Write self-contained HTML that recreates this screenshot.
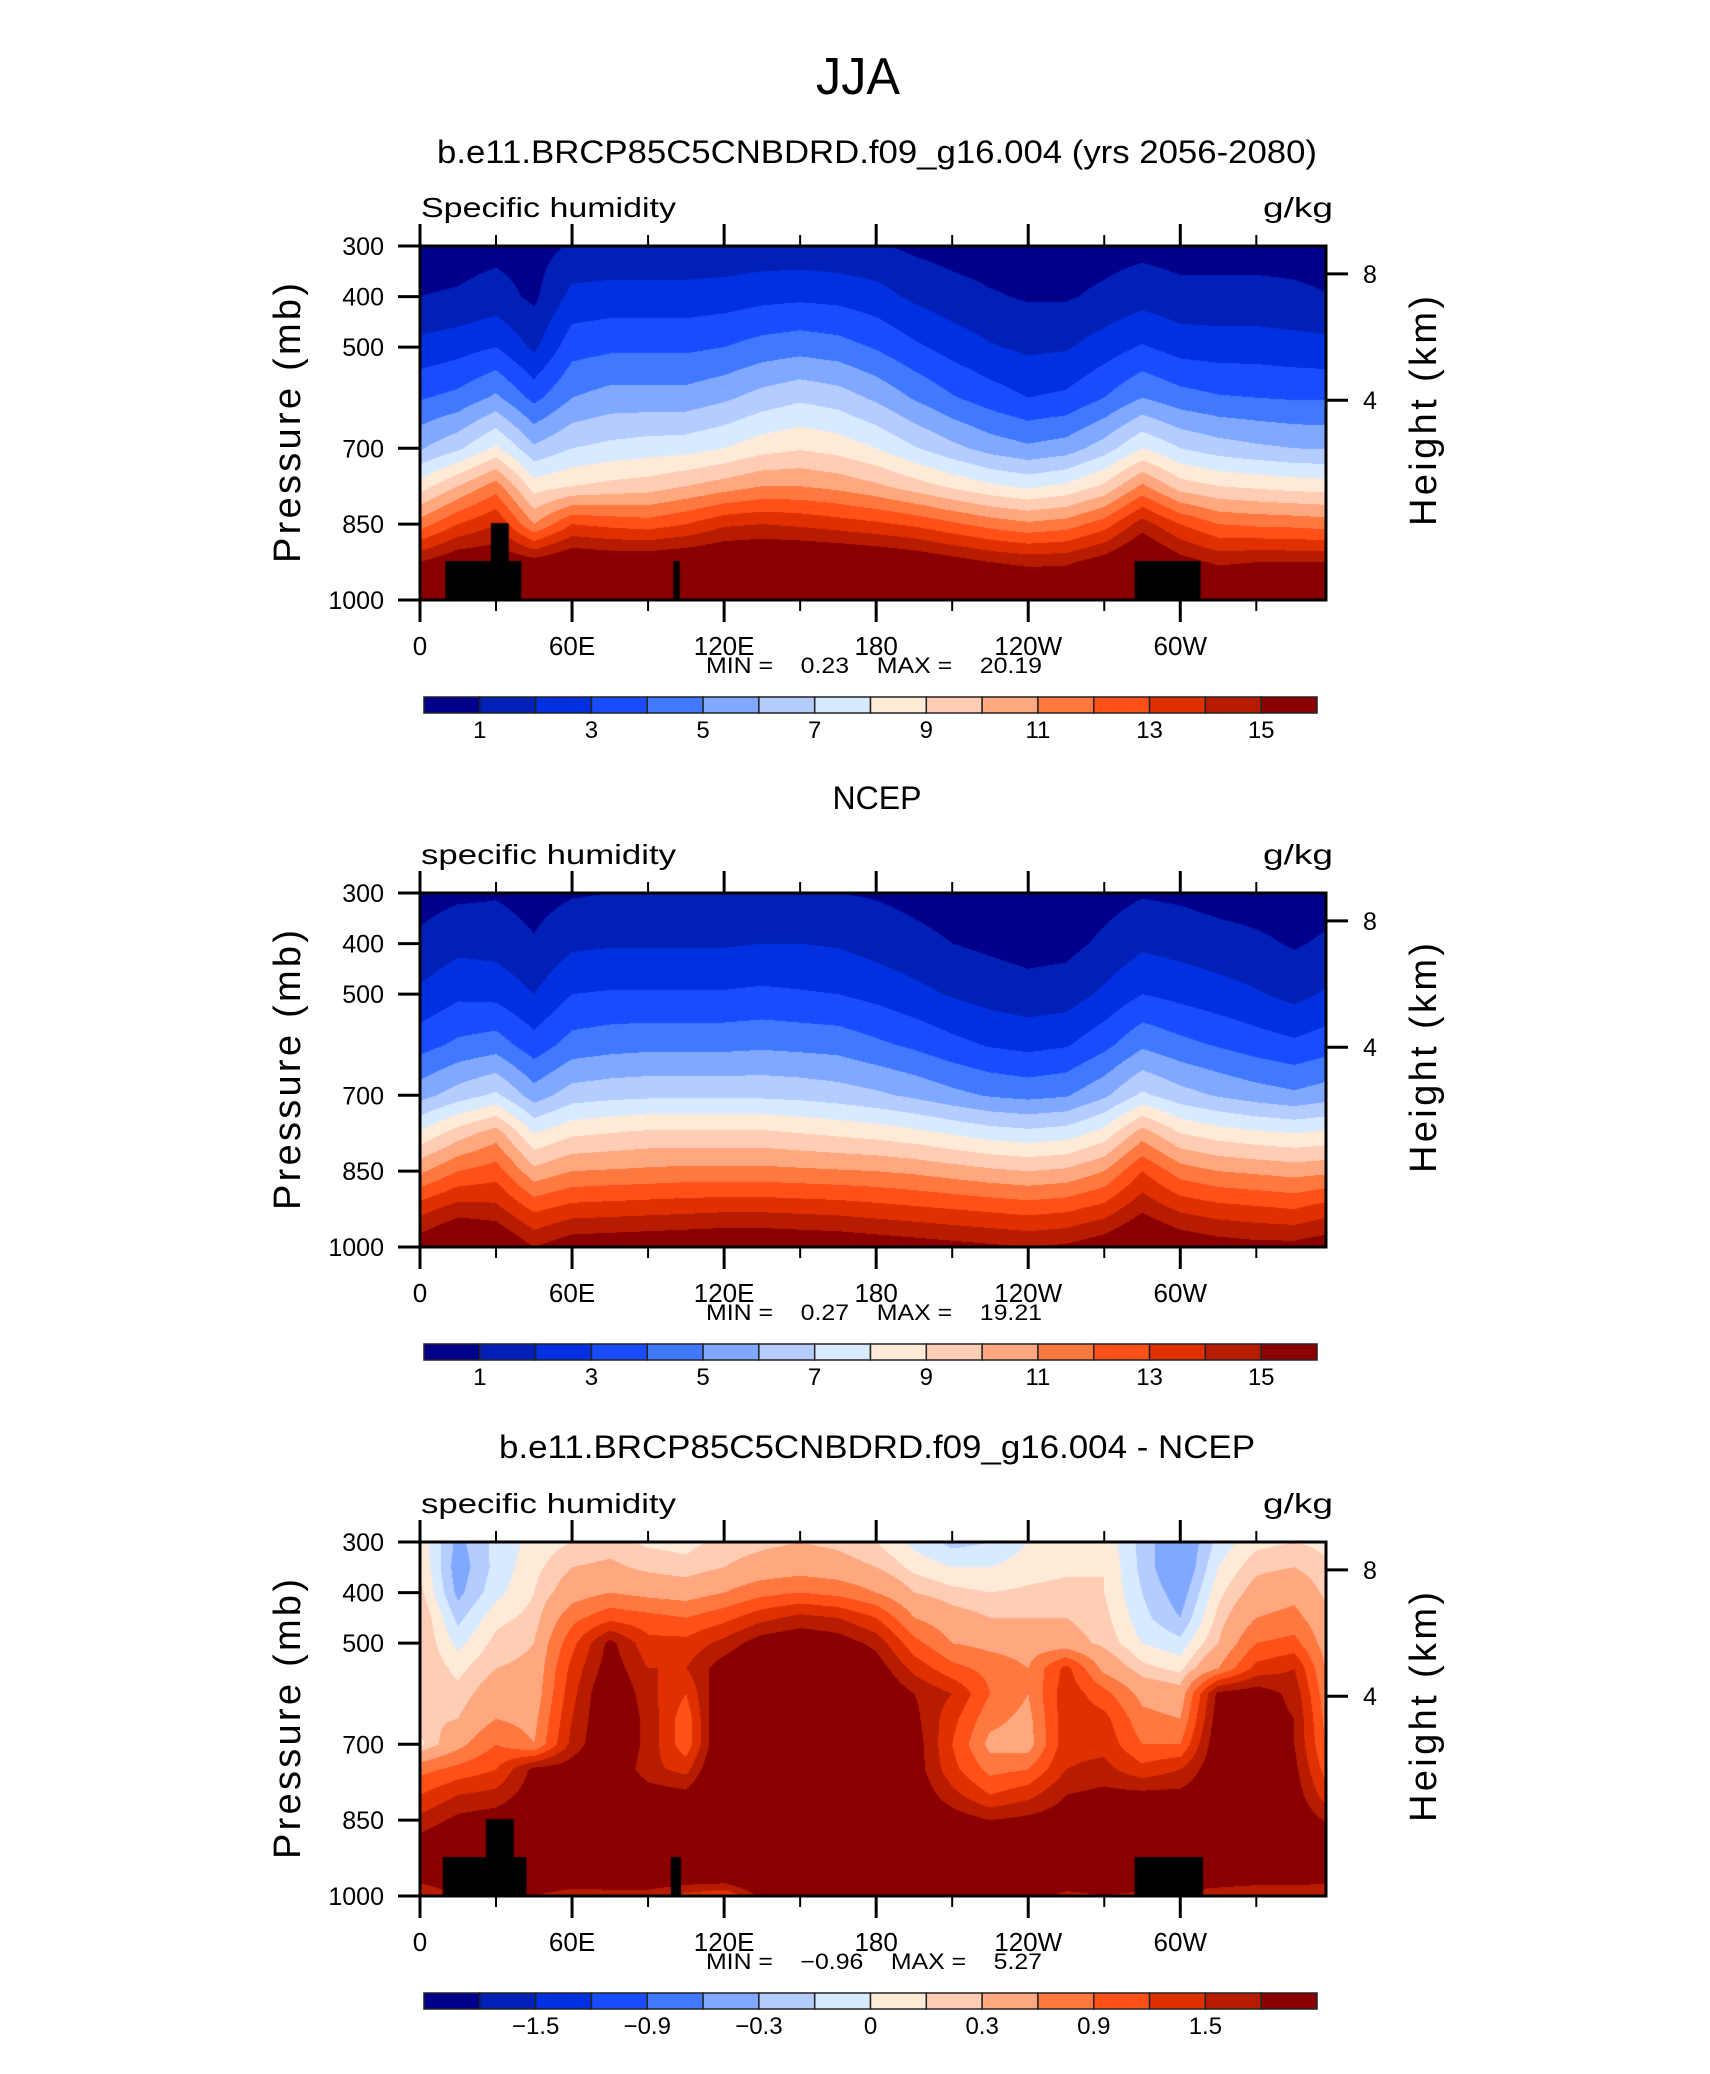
<!DOCTYPE html>
<html><head><meta charset="utf-8">
<style>
html,body{margin:0;padding:0;background:#fff;}
#root{position:relative;width:1710px;height:2074px;overflow:hidden;background:#fff;}
canvas{position:absolute;}
svg{position:absolute;left:0;top:0;}
text{font-family:"Liberation Sans",sans-serif;fill:#000;white-space:pre;}
</style></head>
<body>
<div id="root">
<canvas id="c0" width="906" height="354" style="left:420px;top:246px"></canvas>
<canvas id="c1" width="906" height="354" style="left:420px;top:893px"></canvas>
<canvas id="c2" width="906" height="354" style="left:420px;top:1542px"></canvas>
<svg id="ov" width="1710" height="2074"></svg>
</div>
<script>
// ---- data ----
const lons = [0,15,30,45,60,75,90,105,120,135,150,165,180,195,210,225,240,255,270,285,300,315,330,345,360];
const presRowsA = [300,400,500,600,700,775,850,925,1000];
const modelQ = [
[0.6,0.6,0.7,0.6,1.1,1.2,1.2,1.2,1.2,1.3,1.3,1.2,1.1,0.8,0.6,0.5,0.5,0.5,0.6,0.7,0.6,0.6,0.6,0.6,0.6],
[1.0,1.1,1.4,0.8,2.3,2.4,2.4,2.4,2.5,2.7,2.8,2.7,2.4,1.8,1.4,1.1,0.9,0.9,1.2,1.6,1.3,1.3,1.3,1.2,1.0],
[2.3,2.6,3.0,1.8,3.6,3.8,3.8,3.8,4.0,4.4,4.6,4.4,3.9,3.2,2.6,2.1,1.8,1.9,2.5,3.1,2.6,2.5,2.5,2.4,2.3],
[3.9,4.3,5.2,3.7,5.0,5.4,5.4,5.4,5.8,6.4,6.8,6.5,5.8,4.9,4.1,3.5,3.0,3.2,4.0,5.0,4.4,4.1,4.0,3.9,3.9],
[5.9,6.8,8.2,6.2,7.0,7.3,7.5,7.6,8.0,8.6,8.9,8.6,8.0,7.1,6.3,5.6,5.2,5.5,6.5,8.0,7.0,6.5,6.2,6.0,5.9],
[8.5,10.0,11.5,8.5,9.0,9.3,9.5,10.0,10.5,11.0,11.0,10.7,10.2,9.5,8.8,8.2,7.8,8.2,9.2,11.2,9.5,9.0,8.8,8.6,8.5],
[11.5,13.0,14.0,11.0,13.0,12.7,12.5,13.0,13.8,14.0,13.8,13.5,13.2,12.8,12.2,11.6,11.2,11.5,12.5,14.5,13.0,12.0,11.8,11.7,11.5],
[15.0,16.0,16.0,15.5,16.2,16.0,16.0,16.2,16.5,16.6,16.6,16.5,16.3,16.0,15.5,15.0,14.7,14.8,15.6,16.8,15.5,14.8,15.0,15.0,15.0],
[17,18,18,17,18.5,18.5,18.5,18.5,18.8,19,19,18.8,18.6,18.3,18,17.5,17,17,17.8,19,18,17,17,17,17]
];
const ncepQ = [
[0.6,0.8,0.9,0.6,0.9,1.0,1.0,1.0,1.0,1.1,1.1,1.0,0.9,0.7,0.5,0.4,0.4,0.4,0.6,0.9,0.8,0.6,0.5,0.4,0.6],
[1.2,1.7,1.6,1.1,1.8,1.9,1.9,1.9,1.9,2.0,2.0,1.9,1.6,1.3,1.0,0.8,0.6,0.7,1.2,1.8,1.6,1.4,1.2,0.9,1.2],
[2.2,2.8,2.7,2.0,3.0,3.1,3.1,3.1,3.1,3.2,3.1,3.0,2.7,2.3,1.9,1.6,1.4,1.5,2.2,3.0,2.7,2.4,2.1,1.7,2.2],
[3.6,4.2,4.5,3.4,4.4,4.6,4.7,4.7,4.7,4.8,4.7,4.6,4.2,3.8,3.3,2.9,2.7,2.9,3.7,4.8,4.3,3.9,3.5,3.2,3.6],
[5.6,6.5,7.2,5.5,6.5,6.7,6.8,6.8,6.8,6.8,6.7,6.5,6.2,5.8,5.3,4.9,4.7,4.9,5.8,7.2,6.4,5.9,5.5,5.2,5.6],
[8.2,9.5,10.5,8.0,8.8,9.0,9.2,9.2,9.2,9.2,9.0,8.8,8.6,8.3,7.9,7.5,7.3,7.5,8.4,10.5,9.0,8.5,8.2,8.0,8.2],
[10.8,12.0,12.5,10.3,11.0,11.1,11.2,11.3,11.3,11.3,11.2,11.1,11.0,10.8,10.5,10.2,10.0,10.2,11.0,13.0,11.5,11.0,10.8,10.6,10.8],
[13.6,14.5,14.3,12.8,13.4,13.5,13.6,13.7,13.8,13.8,13.7,13.6,13.4,13.2,13.0,12.8,12.6,12.8,13.4,14.8,13.8,13.4,13.2,13.0,13.6],
[15.8,16.8,16.5,15.0,15.8,15.9,16.0,16.1,16.2,16.2,16.1,16.0,15.8,15.6,15.4,15.2,15.0,15.2,15.8,16.8,16.0,15.6,15.4,15.4,15.8]
];
const presRowsD = [300,350,400,450,500,550,600,650,700,750,800,850,900,950,1000];
const diffQ = [
[0.1,-0.35,-0.1,0.05,0.15,0.2,0.12,0.1,0.2,0.25,0.3,0.25,0.15,-0.05,-0.2,-0.15,0.0,0.05,0.1,-0.2,-0.5,-0.1,0.1,0.15,0.1],
[0.15,-0.4,-0.1,0.1,0.3,0.35,0.25,0.2,0.3,0.4,0.45,0.4,0.3,0.1,0.0,0.0,0.08,0.12,0.15,-0.2,-0.5,0.0,0.25,0.3,0.15],
[0.2,-0.35,-0.05,0.15,0.45,0.6,0.5,0.45,0.6,0.8,0.9,0.8,0.6,0.3,0.2,0.15,0.18,0.2,0.15,-0.15,-0.4,0.1,0.4,0.5,0.2],
[0.3,-0.2,0.1,0.2,0.8,1.1,1.0,0.9,1.1,1.4,1.6,1.5,1.2,0.6,0.4,0.3,0.3,0.3,0.2,-0.1,-0.3,0.2,0.6,0.7,0.3],
[0.3,-0.05,0.2,0.3,1.1,1.9,1.3,1.3,1.6,2.0,2.1,2.0,1.7,1.0,0.6,0.5,0.45,0.4,0.25,0.0,-0.1,0.3,0.9,1.0,0.35],
[0.3,0.1,0.3,0.35,1.3,2.0,1.5,1.5,2.0,2.3,2.4,2.3,2.0,1.4,1.0,0.8,0.6,1.3,0.5,0.2,0.1,0.6,1.3,1.5,0.4],
[0.3,0.2,0.45,0.4,1.4,2.2,1.6,1.2,2.2,2.5,2.5,2.4,2.2,1.8,1.5,0.9,0.6,1.4,1.0,0.5,0.4,1.9,2.0,1.7,0.5],
[0.25,0.3,0.6,0.5,1.5,2.2,1.7,1.0,2.3,2.6,2.6,2.5,2.3,1.9,1.3,0.7,0.5,1.4,1.3,0.7,0.6,2.0,2.0,1.8,0.6],
[0.1,0.5,0.9,0.6,1.6,2.2,1.7,1.0,2.3,2.7,2.7,2.6,2.4,2.0,1.2,0.5,0.45,1.4,1.4,0.9,0.9,2.1,2.2,1.8,0.7],
[0.8,1.0,1.2,1.9,2.0,2.2,1.6,1.4,2.4,2.7,2.7,2.6,2.4,2.0,1.3,0.8,0.9,1.5,1.6,1.3,1.5,2.1,2.2,1.9,0.9],
[1.2,1.5,1.6,2.0,2.1,2.3,2.0,1.9,2.5,2.7,2.7,2.6,2.4,2.1,1.6,1.2,1.4,1.8,1.9,1.9,1.9,2.1,2.2,2.0,1.2],
[1.6,1.9,2.0,2.2,2.3,2.4,2.3,2.3,2.5,2.6,2.6,2.5,2.4,2.2,2.0,1.8,1.9,2.0,2.1,2.0,2.0,2.2,2.2,2.1,1.7],
[2.0,2.2,2.2,2.3,2.4,2.4,2.4,2.4,2.5,2.6,2.6,2.5,2.4,2.3,2.2,2.1,2.1,2.2,2.2,2.2,2.2,2.3,2.3,2.2,2.0],
[2.1,2.2,2.2,2.3,2.3,2.4,2.4,2.3,2.4,2.5,2.5,2.4,2.4,2.3,2.2,2.2,2.2,2.2,2.2,2.2,2.2,2.2,2.2,2.2,2.1],
[1.5,1.8,1.8,1.8,1.6,1.6,1.6,1.4,1.2,1.9,2.0,2.0,2.0,2.0,2.0,2.0,2.0,1.7,1.8,1.7,1.7,1.6,1.5,1.5,1.5]
];
const levelsQ = [1,2,3,4,5,6,7,8,9,10,11,12,13,14,15];
const levelsD = [-1.8,-1.5,-1.2,-0.9,-0.6,-0.3,-0.15,0,0.15,0.3,0.6,0.9,1.2,1.5,1.8];
const barLabelsQ = ["1","3","5","7","9","11","13","15"];
const barLabelsD = ["\u22121.5","\u22120.9","\u22120.3","0","0.3","0.9","1.5"];
const barLabelIdxQ = [0,2,4,6,8,10,12,14];
const barLabelIdxD = [1,3,5,7,9,11,13];
const colors = ["#00008a","#0020b8","#0030e0","#1a4cff","#4078ff","#80a8ff","#b4ccff","#d8eaff","#ffead8","#ffccb4","#ffa880","#ff7840","#ff5018","#e03000","#b81c00","#8a0000"];
// topography blocks: [lonStart, lonEnd, topPressure]
const topoA = [[10,40,923],[28,35,848],[100,102.5,923],[282,308,923]];
const topoC = [[9,42,923],[26,37,848],[99,103,923],[282,309,923]];
const lonTicks = [0,60,120,180,240,300];
const lonTickLabels = ["0","60E","120E","180","120W","60W"];
const presTicks = [300,400,500,700,850,1000];
const heightTickP = [355,605];
const heightTickLabels = ["8","4"];

// ---- geometry ----
const PL=420, PW=906, PH=354, LONMAX=357.5;
const tops=[246,893,1542];
const xOf = lon => PL + lon/LONMAX*PW;
const yOf = (top,p) => top + (p-300)/700*PH;

function hex(c){return [parseInt(c.slice(1,3),16),parseInt(c.slice(3,5),16),parseInt(c.slice(5,7),16)];}
const rgb = colors.map(hex);

function sample(grid, rows, lon, p){
  let i=0; while(i<lons.length-2 && lon>lons[i+1]) i++;
  let j=0; while(j<rows.length-2 && p>rows[j+1]) j++;
  const tx=(lon-lons[i])/(lons[i+1]-lons[i]);
  const ty=(p-rows[j])/(rows[j+1]-rows[j]);
  const a=grid[j][i],b=grid[j][i+1],c=grid[j+1][i],d=grid[j+1][i+1];
  return (a*(1-tx)+b*tx)*(1-ty)+(c*(1-tx)+d*tx)*ty;
}
function drawField(id, grid, rows, levels, topo){
  const cv=document.getElementById(id), ctx=cv.getContext('2d');
  const img=ctx.createImageData(PW,PH);
  for(let y=0;y<PH;y++){
    const p=300+(y+0.5)/PH*700;
    for(let x=0;x<PW;x++){
      const lon=(x+0.5)/PW*LONMAX;
      const v=sample(grid,rows,lon,p);
      let k=0; while(k<levels.length && v>=levels[k]) k++;
      const c=rgb[k], o=(y*PW+x)*4;
      img.data[o]=c[0];img.data[o+1]=c[1];img.data[o+2]=c[2];img.data[o+3]=255;
    }
  }
  ctx.putImageData(img,0,0);
  ctx.fillStyle="#000";
  topo.forEach(t=>{
    const x0=t[0]/LONMAX*PW, x1=t[1]/LONMAX*PW, y0=(t[2]-300)/700*PH;
    ctx.fillRect(x0,y0,x1-x0,PH-y0);
  });
}
drawField('c0',modelQ,presRowsA,levelsQ,topoA);
drawField('c1',ncepQ,presRowsA,levelsQ,[]);
drawField('c2',diffQ,presRowsD,levelsD,topoC);

// ---- svg overlay ----
const NS="http://www.w3.org/2000/svg", ov=document.getElementById('ov');
function el(tag,attrs,txt){const e=document.createElementNS(NS,tag);for(const k in attrs)e.setAttribute(k,attrs[k]);if(txt!==undefined)e.textContent=txt;ov.appendChild(e);return e;}

let t;
t=el('text',{x:858,y:94,'font-size':52,'text-anchor':'middle','font-weight':'300',textLength:84,lengthAdjust:'spacingAndGlyphs'},'JJA');



const titles=[["b.e11.BRCP85C5CNBDRD.f09_g16.004 (yrs 2056-2080)",163,880,"model-title"],["NCEP",809,0,"ncep-title"],["b.e11.BRCP85C5CNBDRD.f09_g16.004 - NCEP",1458,756,"difference-title"]];
const leftLabels=["Specific humidity","specific humidity","specific humidity"];
const minmax=[["0.23","20.19"],["0.27","19.21"],["\u22120.96","5.27"]];

for(let k=0;k<3;k++){
  const top=tops[k], bot=top+PH;
  const ta={x:877,y:titles[k][1],'font-size':32,'text-anchor':'middle'};
  if(titles[k][2]){ta.textLength=titles[k][2];ta.lengthAdjust='spacingAndGlyphs';}
  t=el('text',ta,titles[k][0]);
  
  
  t=el('text',{x:421,y:top-29,'font-size':28,textLength:255,lengthAdjust:'spacingAndGlyphs'},leftLabels[k]);
  
  
  t=el('text',{x:1333,y:top-29,'font-size':28,'text-anchor':'end',textLength:70,lengthAdjust:'spacingAndGlyphs'},'g/kg');
  
  
  // frame
  t=el('rect',{x:PL,y:top,width:PW,height:PH,fill:'none',stroke:'#000','stroke-width':3});
  
  
  for(let lon=0;lon<=LONMAX;lon+=30){
    const major=lon%60===0, x=xOf(lon), L=major?22:11;
    t=el('line',{x1:x,x2:x,y1:top-L,y2:top,stroke:'#000','stroke-width':major?3:2});
    
    
    t=el('line',{x1:x,x2:x,y1:bot,y2:bot+L,stroke:'#000','stroke-width':major?3:2});
    
    
  }
  lonTicks.forEach((lon,i)=>{
    t=el('text',{x:xOf(lon),y:bot+55,'font-size':26,'text-anchor':'middle'},lonTickLabels[i]);
    
    
  });
  presTicks.forEach(p=>{
    const y=yOf(top,p);
    t=el('line',{x1:PL-22,x2:PL,y1:y,y2:y,stroke:'#000','stroke-width':3});
    
    
    t=el('text',{x:384,y:y+9,'font-size':25,'text-anchor':'end'},String(p));
    
    
  });
  heightTickP.forEach((p,i)=>{
    const y=yOf(top,p);
    t=el('line',{x1:PL+PW,x2:PL+PW+22,y1:y,y2:y,stroke:'#000','stroke-width':3});
    
    
    t=el('text',{x:1363,y:y+9,'font-size':25},heightTickLabels[i]);
    
    
  });
  t=el('text',{x:0,y:0,'font-size':38,'text-anchor':'middle',transform:`translate(300,${top+PH/2}) rotate(-90)`,textLength:280,lengthAdjust:'spacing'},'Pressure (mb)');
  
  
  t=el('text',{x:0,y:0,'font-size':38,'text-anchor':'middle',transform:`translate(1436,${top+PH/2-12}) rotate(-90)`,textLength:230,lengthAdjust:'spacing'},'Height (km)');
  
  
  t=el('text',{x:706,y:bot+73,'font-size':22,textLength:336,lengthAdjust:'spacingAndGlyphs'},`MIN =    ${minmax[k][0]}    MAX =    ${minmax[k][1]}`);
  
  
  // colorbar
  const cbTop=top+451, cbL=424, bw=893/16;
  colors.forEach((c,i)=>{
    t=el('rect',{x:cbL+i*bw,y:cbTop,width:bw,height:16,fill:c,stroke:'#222','stroke-width':1.5});
    
    
  });
  const labs=k<2?barLabelsQ:barLabelsD, idx=k<2?barLabelIdxQ:barLabelIdxD;
  labs.forEach((s,i)=>{
    t=el('text',{x:cbL+(idx[i]+1)*bw,y:cbTop+41,'font-size':24,'text-anchor':'middle'},s);
    
    
  });
}
</script>
</body></html>
